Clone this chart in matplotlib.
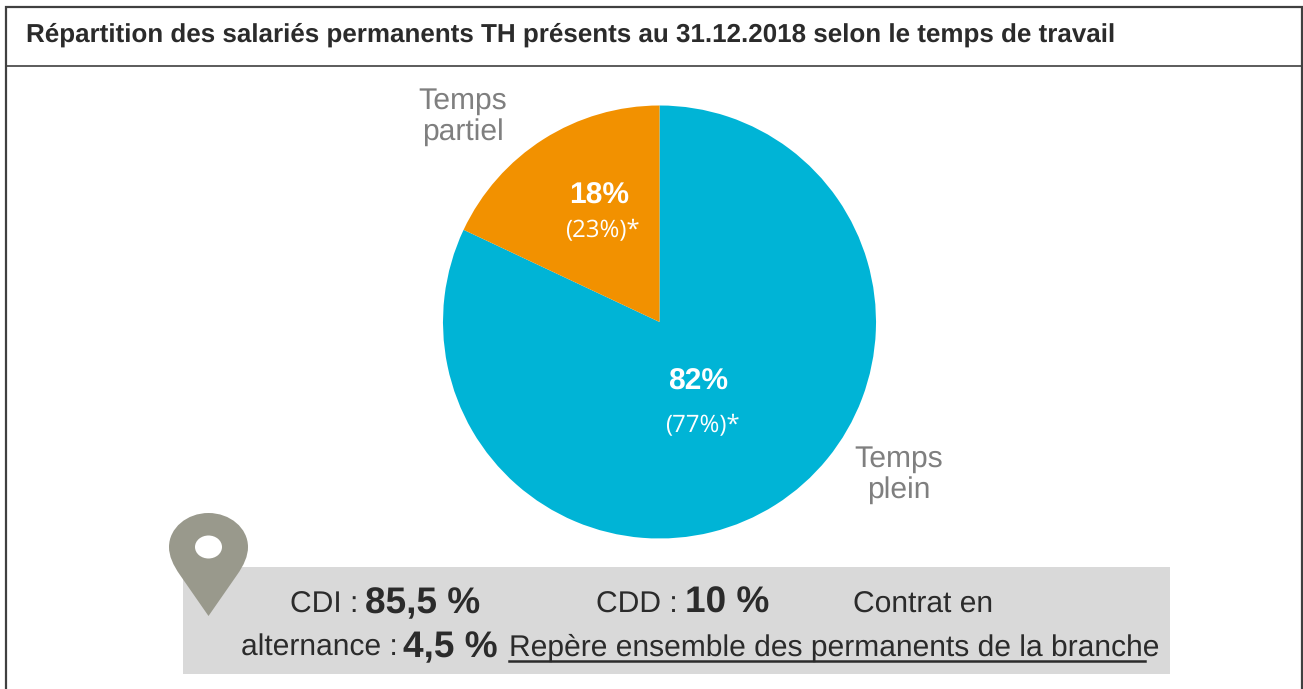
import matplotlib
matplotlib.use("Agg")
import matplotlib.pyplot as plt
from matplotlib.patches import Rectangle, PathPatch, Ellipse
from matplotlib.path import Path

TITLE = "Répartition des salariés permanents TH présents au 31.12.2018 selon le temps de travail"
shares = [82, 18]
refs = [77, 23]
labels = ["Temps\nplein", "Temps\npartiel"]
colors = ["#00B4D6", "#F29100"]

W, H = 1303, 689
DPI = 100
SANS = ["Liberation Sans", "DejaVu Sans"]
plt.rcParams["font.family"] = SANS
plt.rcParams["text.hinting"] = "none"
plt.rcParams["text.hinting_factor"] = 1
fig = plt.figure(figsize=(W / DPI, H / DPI), dpi=DPI)
bg = fig.add_axes([0, 0, 1, 1])
bg.set_xlim(0, W)
bg.set_ylim(H, 0)
bg.axis("off")
bg.set_zorder(2)

bg.plot([5.5, 5.5, 1302, 1302], [H, 7, 7, H], color="#404040", lw=1.6, solid_joinstyle="miter")
bg.plot([5.5, 1302], [65.5, 65.5], color="#404040", lw=1.2)
bg.text(26, 34.5, TITLE, fontsize=18.95, fontweight="bold", color="#2b2b2b", va="center", ha="left")

# Pie
cx, cy, r = 659.5, 322, 216.5
pie_ax = fig.add_axes([(cx - r) / W, 1 - (cy + r) / H, 2 * r / W, 2 * r / H])
pie_ax.set_zorder(1)
pie_ax.pie(shares, colors=colors, startangle=90, counterclock=False, radius=1,
           wedgeprops=dict(linewidth=0))
pie_ax.set_xlim(-1, 1)
pie_ax.set_ylim(-1, 1)
pie_ax.set_aspect("equal")

grey = "#7F7F7F"
bg.text(899, 475, labels[0], fontsize=21.8, color=grey, ha="center", va="center", linespacing=1.14)
bg.text(463, 116.5, labels[1], fontsize=21.8, color=grey, ha="center", va="center", linespacing=1.14)

OPEN = ["Open Sans", "DejaVu Sans"]
bg.text(698, 382, f"{shares[0]}%", fontsize=21.7, fontweight="bold", color="white", ha="center", va="center")
bg.text(702.5, 426, f"({refs[0]}%)*", fontsize=17.4, color="white", ha="center", va="center", family=OPEN)
bg.text(599.5, 196, f"{shares[1]}%", fontsize=21.7, fontweight="bold", color="white", ha="center", va="center")
bg.text(602.5, 231, f"({refs[1]}%)*", fontsize=17.4, color="white", ha="center", va="center", family=OPEN)

# Grey box
bg.add_patch(Rectangle((183, 567), 987, 107, facecolor="#D9D9D9", edgecolor="none", zorder=1))

# Pin
pin_verts = [(208.5, 616), (180, 575), (173, 565), (169, 556), (169, 547), (169, 528), (187, 513), (208.5, 513),
             (230, 513), (248, 528), (248, 547), (248, 556), (244, 565), (237, 575), (208.5, 616)]
pin_codes = [Path.MOVETO, Path.LINETO] + [Path.CURVE4] * 12 + [Path.LINETO]
bg.add_patch(PathPatch(Path(pin_verts, pin_codes), facecolor="#99998C", edgecolor="none", zorder=2))
bg.add_patch(Ellipse((208.5, 547), 27, 23, facecolor="white", edgecolor="none", zorder=3))

# Box text
def t(x, y, s, bold=False, size=21.4):
    bg.text(x, y, s, fontsize=size, fontweight="bold" if bold else "normal", color="#2b2b2b",
            ha="left", va="baseline", zorder=4)

t(290, 613, "CDI :")
t(365, 613, "85,5 %", bold=True, size=26.8)
t(596, 613, "CDD :")
t(685, 613, "10 %", bold=True, size=26.8)
t(853, 613, "Contrat en")
t(241, 656, "alternance :")
t(403, 657, "4,5 %", bold=True, size=26.8)
t(509, 656, "Repère ensemble des permanents de la branche")
bg.plot([509, 1145], [660.5, 660.5], color="#2b2b2b", lw=1.8, zorder=4)

fig.savefig("out.png", dpi=DPI)
